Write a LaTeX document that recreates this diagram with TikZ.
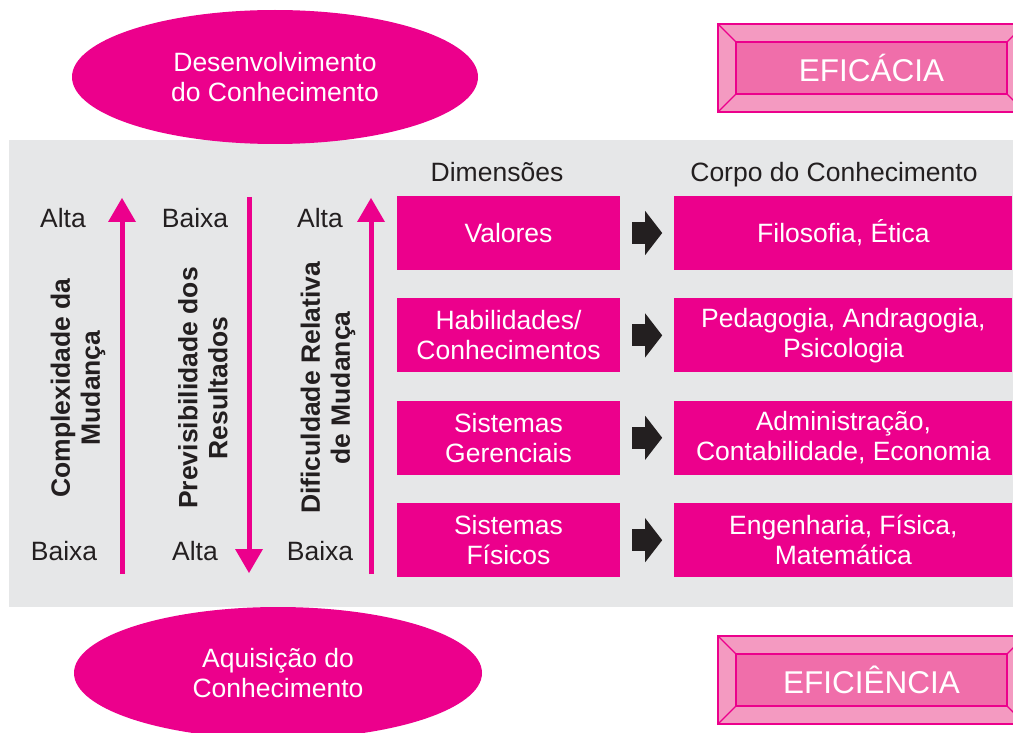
\documentclass[tikz,border=0pt]{standalone}
\usepackage{fontspec}
\setmainfont{Liberation Sans}
\usetikzlibrary{shapes.geometric, arrows.meta, positioning, calc}

\definecolor{mgnt}{HTML}{EC008C}
\definecolor{pinkl}{HTML}{F49AC1}
\definecolor{pinkm}{HTML}{F06EAA}
\definecolor{panelgray}{HTML}{E6E7E8}
\definecolor{ink}{HTML}{231F20}

\begin{document}
\begin{tikzpicture}[
    x=1pt, y=-1pt,
    node distance=28pt,
    every node/.style={font=\fontsize{26.5}{30}\selectfont, text=ink},
    blob/.style={ellipse, fill=mgnt, text=white, align=center, minimum width=406pt, minimum height=134pt},
    dim/.style={rectangle, fill=mgnt, text=white, align=center, minimum width=223pt, minimum height=74pt},
    corpus/.style={dim, minimum width=338pt},
    axis/.style={rotate=90, align=center, font=\bfseries\fontsize{26.5}{30}\selectfont},
    gauge/.style={line width=5pt, mgnt, -{Triangle[length=24pt, width=28pt, line width=0pt]}},
    push/.style={line width=22pt, ink, -{Triangle[length=17pt, width=44pt, line width=0pt]}, shorten <=12pt, shorten >=12pt},
    bevel/.style={fill=pinkl, draw=mgnt, line width=1.2pt, even odd rule},
    plate/.style={rectangle, fill=pinkm, draw=mgnt, line width=1.2pt, outer sep=0pt, text=white, minimum width=271pt, minimum height=52pt, font=\fontsize{31.5}{36}\selectfont}
]
\useasboundingbox (0,0) rectangle (1013,733);
\clip (0,0) rectangle (1013,733);

% Background panel
\fill[panelgray] (9,140) rectangle (1013,607);

% Ellipses
\node[blob] (desenv) at (275,77) {Desenvolvimento\\do Conhecimento};
\node[blob, minimum width=408pt, minimum height=132pt] (aquis) at (278,673) {Aquisição do\\Conhecimento};

% Bevelled plates (right)
\node[plate] (eficacia) at (871.5,68) {EFICÁCIA};
\node[plate] (eficiencia) at (871.5,680) {EFICIÊNCIA};
\filldraw[bevel] ($(eficacia.north west)+(-18,-18)$) rectangle ($(eficacia.south east)+(18,18)$)
    (eficacia.north west) rectangle (eficacia.south east);
\draw[mgnt, line width=1.2pt] (eficacia.north west) -- +(-18,-18) (eficacia.north east) -- +(18,-18)
    (eficacia.south west) -- +(-18,18) (eficacia.south east) -- +(18,18);
\filldraw[bevel] ($(eficiencia.north west)+(-18,-18)$) rectangle ($(eficiencia.south east)+(18,18)$)
    (eficiencia.north west) rectangle (eficiencia.south east);
\draw[mgnt, line width=1.2pt] (eficiencia.north west) -- +(-18,-18) (eficiencia.north east) -- +(18,-18)
    (eficiencia.south west) -- +(-18,18) (eficiencia.south east) -- +(18,18);

% Scales (left)
\node (alta1) at (63,218) {Alta};
\node (baixa1) at (64,551) {Baixa};
\node (baixa2) at (195,218) {Baixa};
\node (alta2) at (195,551) {Alta};
\node (alta3) at (320,218) {Alta};
\node (baixa3) at (320,551) {Baixa};

\node[axis] (complex) at (78,388) {Complexidade da\\Mudança};
\node[axis] (previs) at (203,388) {Previsibilidade dos\\Resultados};
\node[axis] (dificul) at (328,388) {Dificuldade Relativa\\de Mudança};

\coordinate (s1lo) at (122,574);
\coordinate (s1hi) at (122,198);
\coordinate (s2hi) at (249,197);
\coordinate (s2lo) at (249,573);
\coordinate (s3lo) at (371,574);
\coordinate (s3hi) at (371,198);

\draw[gauge] (s1lo) -- (s1hi);
\draw[gauge] (s2hi) -- (s2lo);
\draw[gauge] (s3lo) -- (s3hi);

% Column headers
\node[anchor=base] (hdim) at (497,182) {Dimensões};
\node[anchor=base] (hcorp) at (834,182) {Corpo do Conhecimento};

% Dimensions
\node[dim] (valores) at (508.5,233) {Valores};
\node[dim, below=of valores] (habil) {Habilidades/\\Conhecimentos};
\node[dim, below=of habil] (gerenc) {Sistemas\\Gerenciais};
\node[dim, below=of gerenc] (fisic) {Sistemas\\Físicos};

% Body of knowledge
\node[corpus, right=54pt of valores] (filo) {Filosofia, Ética};
\node[corpus, right=54pt of habil] (pedag) {Pedagogia, Andragogia,\\Psicologia};
\node[corpus, right=54pt of gerenc] (admin) {Administração,\\Contabilidade, Economia};
\node[corpus, right=54pt of fisic] (engen) {Engenharia, Física,\\Matemática};

% Arrows - dimensions to knowledge
\draw[push] (valores) -- (filo);
\draw[push] (habil) -- (pedag);
\draw[push] (gerenc) -- (admin);
\draw[push] (fisic) -- (engen);

\end{tikzpicture}
\end{document}
